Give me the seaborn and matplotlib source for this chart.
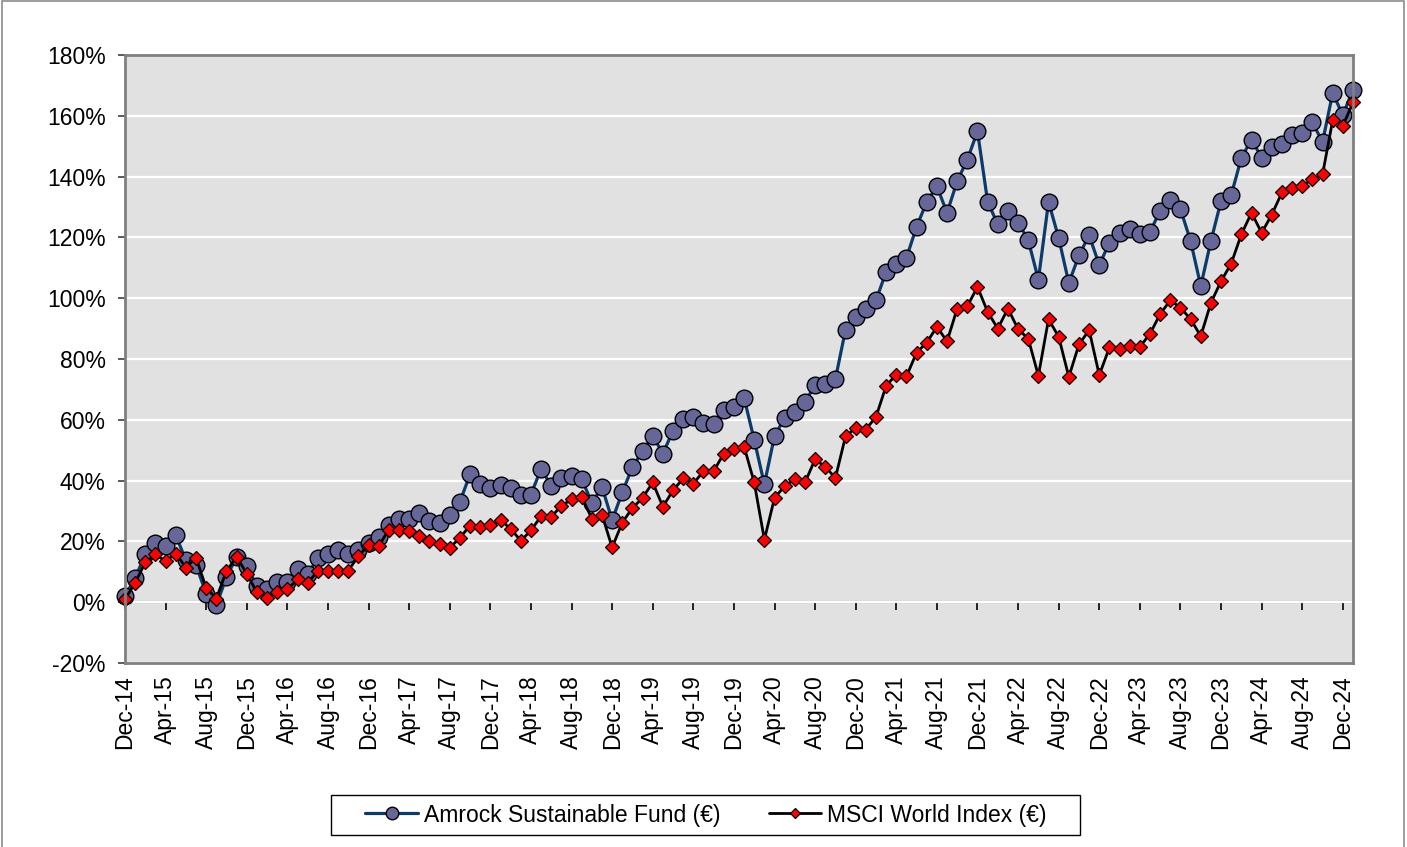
import pandas as pd
import numpy as np
import seaborn as sns
import matplotlib.pyplot as plt
from matplotlib.patches import Rectangle

# monthly cumulative performance, Dec-14 .. Jan-25 (in %)
fund = [2.0, 8.0, 15.7, 19.6, 18.4, 22.0, 13.8, 12.2, 2.8, -1.0,
        8.3, 14.9, 11.8, 5.4, 4.5, 6.7, 6.7, 10.8, 9.4, 14.4,
        15.8, 17.1, 15.8, 17.3, 19.5, 21.3, 25.3, 27.5, 27.4, 29.4,
        26.6, 25.9, 28.6, 33.0, 42.1, 39.0, 37.6, 38.5, 37.6, 35.4,
        35.4, 43.9, 38.3, 41.0, 41.6, 40.5, 32.7, 37.9, 27.0, 36.1,
        44.5, 49.7, 54.7, 48.9, 56.4, 60.1, 61.0, 58.8, 58.6, 63.2,
        64.3, 67.2, 53.4, 38.8, 54.7, 60.6, 62.6, 65.7, 71.6, 71.9,
        73.4, 89.7, 93.9, 96.4, 99.3, 108.7, 111.4, 113.3, 123.5, 131.7,
        136.8, 128.1, 138.5, 145.6, 154.9, 131.7, 124.3, 128.6, 124.9, 119.1,
        106.1, 131.7, 119.8, 105.0, 114.1, 120.7, 110.9, 118.3, 121.3, 122.7,
        121.0, 121.8, 128.8, 132.2, 129.3, 118.8, 104.0, 118.8, 132.0, 133.9,
        146.2, 152.2, 146.2, 149.8, 150.7, 153.6, 154.2, 157.8, 151.4, 167.5,
        160.2, 168.6]

msci = [0.9, 6.4, 13.1, 15.7, 13.5, 16.0, 11.4, 14.6, 4.7, 1.2,
        10.3, 14.9, 9.4, 3.2, 1.5, 3.2, 4.2, 7.5, 6.4, 10.2,
        10.3, 10.2, 10.4, 15.2, 18.8, 18.5, 23.9, 23.9, 23.4, 21.7,
        20.2, 19.0, 17.9, 21.2, 25.2, 24.6, 25.3, 27.0, 24.2, 20.2,
        23.6, 28.3, 28.1, 31.7, 33.8, 34.6, 27.5, 28.8, 18.0, 26.2,
        31.0, 34.3, 39.4, 31.4, 36.8, 40.7, 39.0, 43.1, 43.1, 48.9,
        50.3, 51.2, 39.4, 20.6, 34.3, 38.2, 40.4, 39.4, 47.0, 44.5,
        40.9, 54.6, 57.3, 56.8, 61.0, 71.2, 74.9, 74.3, 82.1, 85.4,
        90.6, 85.8, 96.6, 97.4, 103.7, 95.5, 90.0, 96.6, 89.8, 86.7,
        74.5, 93.1, 87.3, 74.1, 84.8, 89.5, 74.7, 83.8, 83.4, 84.2,
        84.0, 88.3, 94.8, 99.3, 96.9, 93.1, 87.5, 98.5, 105.6, 111.4,
        121.0, 128.1, 121.5, 127.5, 134.8, 136.4, 137.0, 139.1, 140.7, 158.6,
        156.7, 164.4]

months = pd.date_range("2014-12-31", periods=len(fund), freq="ME").strftime("%b-%y").tolist()
yticks = list(range(-20, 181, 20))

df = pd.DataFrame({"month": np.arange(len(fund)), "fund": fund, "msci": msci})

sns.set_style("white")
plt.rcParams['font.family'] = ['Liberation Sans', 'DejaVu Sans']
plt.rcParams['text.color'] = 'black'
plt.rcParams['xtick.color'] = 'black'
plt.rcParams['ytick.color'] = 'black'

fig = plt.figure(figsize=(14.07, 8.47), dpi=100)
ax = fig.add_axes([125/1407, 1-663/847, 1228/1407, 608/847])
ax.set_facecolor("#E1E1E1")

# outer chart border
fig.patches.append(Rectangle((0.0015, -0.01), 0.9965, 1.0085, transform=fig.transFigure,
                             fill=False, edgecolor="#8C8C8C", linewidth=1.2))

sns.lineplot(data=df, x="month", y="fund", ax=ax, color="#0B3B6A", linewidth=2.3,
             marker="o", markersize=12, markerfacecolor="#666699",
             markeredgecolor="black", markeredgewidth=1.0, clip_on=False,
             label="Amrock Sustainable Fund (€)", legend=False)
sns.lineplot(data=df, x="month", y="msci", ax=ax, color="black", linewidth=2.0,
             marker="D", markersize=7.4, markerfacecolor="#FF0000",
             markeredgecolor="black", markeredgewidth=0.9, clip_on=False,
             label="MSCI World Index (€)", legend=False)

ax.set_xlim(0, len(fund) - 1)
ax.set_ylim(-20, 180)
ax.set_yticks(yticks)
ax.set_yticklabels([f"{v}%" for v in yticks], fontsize=16.5)
ax.set_xticks(range(0, len(fund), 4))
ax.set_xticklabels(months[::4], rotation=90, fontsize=16.5)
ax.tick_params(axis="x", length=0, pad=9)
ax.tick_params(axis="y", direction="out", length=5, width=1.2, color="#404040", pad=9, left=True)
ax.set_xlabel("")
ax.set_ylabel("")
ax.grid(axis="y", color="white", linewidth=1.6)
ax.set_axisbelow(True)
for s in ax.spines.values():
    s.set_visible(True)
    s.set_color("#808080")
    s.set_linewidth(2)

# horizontal axis line with tick marks at 0%
sec = ax.secondary_xaxis(0.1)
sec.set_xticks(range(0, len(fund), 4))
sec.tick_params(axis="x", direction="out", length=6, width=1.2, color="black", labelbottom=False)
sec.spines["bottom"].set_color("black")
sec.spines["bottom"].set_linewidth(1.5)

# legend
fig.patches.append(Rectangle((331/1407, 1-835/847), 749/1407, 40/847, transform=fig.transFigure,
                             fill=False, edgecolor="black", linewidth=1.0))
handles, labels = ax.get_legend_handles_labels()
fig.legend(handles, labels, loc="center", bbox_to_anchor=(706/1407, 1-815/847), ncol=2,
           frameon=False, fontsize=16.5, handlelength=2.3, handletextpad=0.25,
           columnspacing=2.1, markerscale=0.75)

fig.savefig("out.png", dpi=100)
